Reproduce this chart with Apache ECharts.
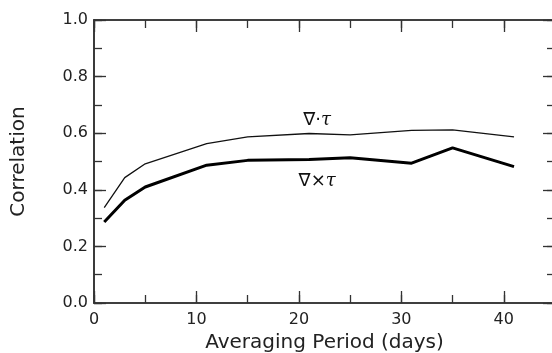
<!DOCTYPE html>
<html>
<head>
<meta charset="utf-8">
<script src="https://cdn.jsdelivr.net/npm/echarts@6/dist/echarts.min.js"></script>
<style>
  html, body { margin: 0; padding: 0; background: #fff; }
  #chart { width: 552px; height: 353px; }
</style>
</head>
<body>
<div id="chart"></div>
<script>
// averaging period (days)
const periods = [1, 3, 5, 11, 15, 21, 25, 31, 35, 41];
// correlation for divergence of stress (thin line)
const divCorr = [0.337, 0.443, 0.492, 0.563, 0.587, 0.599, 0.594, 0.610, 0.612, 0.587];
// correlation for curl of stress (thick line)
const curlCorr = [0.286, 0.363, 0.410, 0.487, 0.504, 0.507, 0.513, 0.494, 0.548, 0.482];
const labelAt = 5; // point where the curve names sit

const FONT = "DejaVu Sans";
const AXIS_COLOR = "#333";

function pairs(ys) {
  return periods.map((x, i) => {
    return [x, ys[i]];
  });
}

// one axis pair (minor ticks + major ticks) for each side of the box
function xAxes(pos, labels) {
  const base = {
    type: "value", position: pos, min: 0, max: 45,
    axisLine: { show: true, onZero: false, lineStyle: { color: AXIS_COLOR, width: 1.6 } },
    splitLine: { show: false }
  };
  return [
    Object.assign({}, base, {
      interval: 5,
      axisTick: { inside: true, length: 8, lineStyle: { color: AXIS_COLOR, width: 1.3 } },
      axisLabel: { show: false }
    }),
    Object.assign({}, base, {
      interval: 10,
      axisTick: { inside: true, length: 12, lineStyle: { color: AXIS_COLOR, width: 1.3 } },
      axisLabel: {
        show: labels, showMaxLabel: false, margin: 9,
        fontFamily: FONT, fontSize: 16, color: "#222"
      }
    })
  ];
}

function yAxes(pos, labels) {
  const base = {
    type: "value", position: pos, min: 0, max: 1,
    axisLine: { show: true, onZero: false, lineStyle: { color: AXIS_COLOR, width: 1.6 } },
    splitLine: { show: false }
  };
  return [
    Object.assign({}, base, {
      interval: 0.1,
      axisTick: { inside: true, length: 8, lineStyle: { color: AXIS_COLOR, width: 1.3 } },
      axisLabel: { show: false }
    }),
    Object.assign({}, base, {
      interval: 0.2,
      axisTick: { inside: true, length: 12, lineStyle: { color: AXIS_COLOR, width: 1.3 } },
      axisLabel: {
        show: labels, margin: 6,
        fontFamily: FONT, fontSize: 16, color: "#222",
        formatter: (v) => v.toFixed(1)
      }
    })
  ];
}

const xs = xAxes("bottom", true).concat(xAxes("top", false));
xs[1].name = "Averaging Period (days)";
xs[1].nameLocation = "middle";
xs[1].nameGap = 30;
xs[1].nameTextStyle = { fontFamily: FONT, fontSize: 20, color: "#222" };

const ys = yAxes("left", true).concat(yAxes("right", false));
ys[1].name = "Correlation";
ys[1].nameLocation = "middle";
ys[1].nameGap = 65;
ys[1].nameTextStyle = { fontFamily: FONT, fontSize: 20, color: "#222" };

const rich = {
  n: { fontFamily: FONT, fontSize: 18, color: "#111" },
  t: { fontFamily: "DejaVu Serif", fontStyle: "italic", fontSize: 18, color: "#111" }
};

function withLabel(ys, text, offset) {
  return pairs(ys).map((p, i) => {
    if (i !== labelAt) return p;
    return {
      value: p,
      label: {
        show: true, position: "inside", offset: offset,
        formatter: text, rich: rich, align: "center", verticalAlign: "middle"
      }
    };
  });
}

const chart = echarts.init(document.getElementById("chart"));
chart.setOption({
  animation: false,
  backgroundColor: "#fff",
  grid: { left: 94, right: -3, top: 20, bottom: 50, outerBoundsMode: "none" },
  xAxis: xs,
  yAxis: ys,
  series: [
    {
      name: "div", type: "line", xAxisIndex: 1, yAxisIndex: 1,
      data: withLabel(divCorr, "{n|∇·}{t|τ}", [8, -13]),
      showSymbol: true, symbol: "circle", symbolSize: 0,
      lineStyle: { color: "#111", width: 1.3 }
    },
    {
      name: "curl", type: "line", xAxisIndex: 1, yAxisIndex: 1,
      data: withLabel(curlCorr, "{n|∇×}{t|τ}", [8, 22]),
      showSymbol: true, symbol: "circle", symbolSize: 0,
      lineStyle: { color: "#000", width: 3 }
    }
  ]
});
</script>
</body>
</html>
